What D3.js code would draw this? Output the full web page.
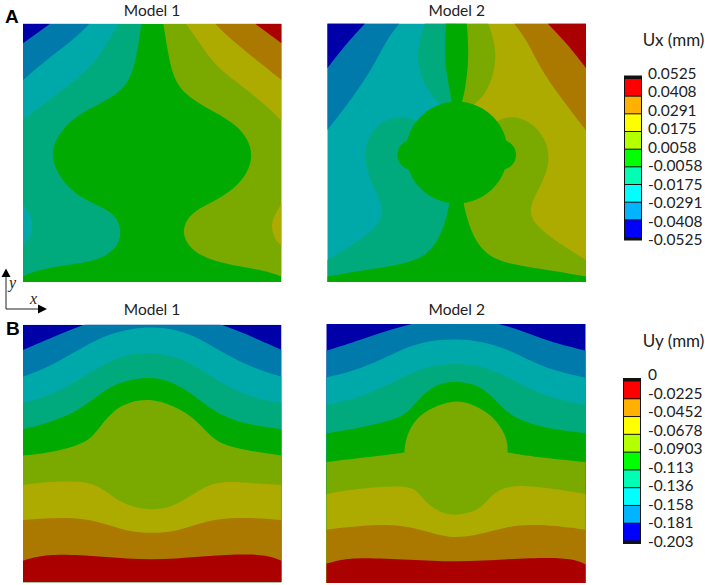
<!DOCTYPE html>
<html>
<head>
<meta charset="utf-8">
<script src="https://cdn.jsdelivr.net/npm/d3@7"></script>
<style>
  body { margin: 0; background: white; }
  svg { display: block; }
  text { font-family: Lato, "Open Sans", sans-serif; fill: #222; }
</style>
</head>
<body>
<div id="canvas"></div>
<script>
// contour bands, dull colours on the plots, full colours on the colour bars
var bandColors = ["#0000a8", "#007aaa", "#00a9a9", "#00aa7c", "#00aa00", "#7aaa00", "#adaa00", "#ab7800", "#aa0000"];
var barColors = ["#ff0000", "#ffb000", "#ffff00", "#b4ff00", "#00ff00", "#00ffb4", "#00ffff", "#00b4ff", "#0000ff"];

var uxLabels = ["0.0525", "0.0408", "0.0291", "0.0175", "0.0058", "-0.0058", "-0.0175", "-0.0291", "-0.0408", "-0.0525"];
var uyLabels = ["0", "-0.0225", "-0.0452", "-0.0678", "-0.0903", "-0.113", "-0.136", "-0.158", "-0.181", "-0.203"];

// contour lines, in percent of the panel: [across, down from the top edge]
// Ux, model 1
var a1Dark = [[10.5,0],[0,7.6]];
var a1Blue = [[25.7,0],[19.5,6.3],[10.5,12.8],[0,21.8]];
var a1Teal = [[36.9,0],[32.4,7.6],[28.5,14.1],[22.1,20.5],[11.7,28.3],[0,37.3]];
var a1TealLobe = [[0,69.8],[2.7,73.4],[4,78.6],[2.7,83.1],[0,86]];
var a1Sea = [[45.8,0],[44,12.8],[41.4,21.8],[36.3,27.6],[27.2,32.1],[18.2,37.3],[12.4,45],[11.1,50.8],[13,57.9],[19.5,65.7],[28.5,70.2],[35.6,73.4],[38.5,80.5],[36.3,87],[29.8,91.5],[16.9,93.4],[5.3,95.4],[0,97.9]];
var a1Olive = [[54.3,0],[56.3,12.8],[58.8,23],[64.6,28.9],[73.7,34],[82.7,39.2],[87.2,45],[88.8,50.8],[87.2,57.4],[81.4,64.4],[72.4,69.6],[64.6,73.4],[61.4,79.9],[63.4,85.7],[69.8,90.9],[84,94.1],[94.3,95.7],[100,97.9]];
var a1Yellow = [[63,0],[68.5,7.6],[73.7,15.4],[81.4,21.8],[91.7,29.5],[100,37.6]];
var a1YellowLobe = [[100,69.8],[96.9,74.7],[95.9,78.6],[97.5,83.7],[100,86]];
var a1Brown = [[74.3,0],[81.4,7],[90.5,14.1],[100,21.8]];
var a1Red = [[89.8,0],[100,7.6]];

// Ux, model 2
var a2Dark = [[14.6,0],[7.5,7.6],[0,17.3]];
var a2Blue = [[27.8,0],[22.9,6.3],[17.8,16.6],[10.1,28.3],[0,41.2]];
var a2Brown = [[72.2,0],[77.1,6.3],[82.2,17.3],[89.9,28.3],[100,41.4]];
var a2Red = [[85.1,0],[92.5,7.6],[100,17.3]];
var a2SeaTop = [[37.8,0],[35.2,7.6],[34.8,15.4],[37.1,23.1],[42.3,30.8],[50,34.7]];
var a2OliveTop = [[62.2,0],[64.8,7.6],[65.2,15.4],[62.9,24.4],[57.7,31.5],[50,34.7]];
var a2Spindle = [[45.9,0],[45.4,7.6],[45.5,15.4],[46.8,23.1],[47.9,30.2],[50,36],[52.3,30.2],[53.6,23.1],[54.5,15.4],[54.5,7.6],[53.9,0]];
var a2SeaMid = [[36,39],[33,36.8],[27.4,35.7],[19.1,38.6],[14.6,46.3],[14.6,55.4],[17.8,63.1],[21.6,70.8],[21,76],[15.2,82.5],[0,91.5]];
var a2OliveMid = [[64,39],[67,36.8],[72.6,35.7],[79.6,38.6],[85.4,46.3],[85.8,55.4],[82.2,63.1],[77.7,71.5],[79.6,77.3],[87.4,83.7],[100,91.5]];
var a2TailLeft = [[47.5,67],[47.2,69.8],[45.5,77.3],[42.9,83.7],[39,88.9],[32,92.8],[12.6,95.6],[0,97.9]];
var a2TailRight = [[52.5,67],[52.6,69.8],[54.5,77.3],[57.1,83.7],[61,88.9],[68,92.8],[87.4,95.6],[100,97.9]];
// hole and the two side bumps: [across, down, radius]
var a2Discs = [[50,49.9,19.7],[32.9,50.8,5.8],[67.1,50.8,5.8]];

// Uy, upper edge of each band from the top band down
var b1Edges = [
  [[0,9.8],[10.5,5.3],[23.1,0],[36,-4],[50,-6],[64,-4],[77.3,0],[89.2,4.9],[100,9.8]],
  [[0,20.2],[10.5,16.3],[23.4,8.5],[33.7,3.4],[42.7,1.4],[50,0.8],[59.5,1.8],[68.5,5.3],[78.8,11.8],[89.2,16.9],[100,20.2]],
  [[0,30.5],[11.7,27.3],[23.4,20.2],[33.7,13.7],[42.7,11.1],[50,10.7],[59.5,12.4],[68.5,16.9],[78.8,24.1],[89.2,28.6],[100,30.5]],
  [[0,40.6],[11.7,37.6],[22.1,33.1],[29.8,26.6],[37.5,22.1],[47.9,20.2],[55.6,21.2],[64.6,26],[73.7,33.8],[84,38.3],[100,40.6]],
  [[0,50.8],[10.5,49.7],[22.1,46.7],[27.2,43.5],[31.1,37.6],[37.5,31.2],[45.2,29],[51.7,29.2],[60.8,32.5],[68.5,38.3],[73.7,44.8],[81.4,48],[100,50.8]],
  [[0,62.2],[10.5,60.9],[23.4,60.7],[29.8,62.9],[36.3,68],[42.7,71],[50,71.9],[57,71],[64.6,66.8],[71.1,62.2],[78.8,60.7],[89.2,61.6],[100,62.2]],
  [[0,75.8],[18.2,74.5],[29.8,76.5],[40.1,80.3],[50,81],[59.5,80.3],[69.8,76.5],[81.4,74.5],[100,75.8]],
  [[0,91.6],[5.3,90],[14.3,89],[29.8,90],[50,91.6],[68.5,90],[85.2,89],[94.2,89.4],[100,91.6]]
];
var b2Edges = [
  [[0,10.3],[13,6.2],[30.3,0],[50,-3],[69.4,0],[83.7,6.2],[100,10.3]],
  [[0,20.6],[13,17.7],[28.4,10],[38.7,6.4],[50.2,5.7],[60.5,6.8],[70.8,10],[83.7,17.1],[100,20.8]],
  [[0,31.2],[13,28.7],[28.4,21],[38.7,16.2],[50.2,14.9],[60.5,16.2],[70.8,21],[83.7,28],[100,31.2]],
  [[0,42.2],[13,40.2],[28.4,36.4],[32.3,33.2],[38.7,25.4],[45.1,22.5],[50.3,22.2],[56.7,23],[63.1,26.7],[69.5,34.4],[76,37.7],[86.2,40.6],[100,42.2]],
  [[0,53.3],[13,51.8],[30.1,49.6],[30.1,49.6],[30.1,49.6],[30.3,46],[32.3,39.6],[37.4,33.8],[45.1,30.6],[50.3,29.6],[55.4,30.6],[63.1,34.4],[68.2,40.9],[69.9,46],[69.9,49.6],[69.9,49.6],[69.9,49.6],[83.7,51.8],[100,53.3]],
  [[0,65.6],[13,63.4],[32.3,62.1],[35.5,65.3],[40,70.4],[45.1,73.3],[49.6,73.9],[55.4,73],[60.5,70.4],[65.7,63.4],[76,62.1],[88.9,63.8],[100,65.6]],
  [[0,79.4],[22,76.9],[34.8,78.8],[45.1,82],[50.3,82.4],[58,81.7],[69.5,78.1],[81.1,77.1],[100,79.4]],
  [[0,92.5],[5.3,91],[13,90.1],[32.3,91],[50.3,92],[70.8,90.7],[86.2,90.1],[95.2,90.7],[100,92.8]]
];

var topLeft = [[0,0]], topRight = [[100,0]];

var a1Regions = [
  {band: 4, edge: [[0,0],[100,0]], close: [[100,100],[0,100]]},
  {band: 3, edge: a1Sea, close: [[0,100],[0,0]]},
  {band: 2, edge: a1Teal, close: topLeft},
  {band: 2, edge: a1TealLobe, close: []},
  {band: 1, edge: a1Blue, close: topLeft},
  {band: 0, edge: a1Dark, close: topLeft},
  {band: 5, edge: a1Olive, close: [[100,100],[100,0]]},
  {band: 6, edge: a1Yellow, close: topRight},
  {band: 6, edge: a1YellowLobe, close: []},
  {band: 7, edge: a1Brown, close: topRight},
  {band: 8, edge: a1Red, close: topRight}
];
var a2Regions = [
  {band: 2, edge: [[0,0],[50,0]], close: [[50,100],[0,100]]},
  {band: 6, edge: [[50,0],[100,0]], close: [[100,100],[50,100]]},
  {band: 1, edge: a2Blue, close: topLeft},
  {band: 0, edge: a2Dark, close: topLeft},
  {band: 7, edge: a2Brown, close: topRight},
  {band: 8, edge: a2Red, close: topRight},
  {band: 3, edge: a2SeaTop, close: [[50,0]]},
  {band: 5, edge: a2OliveTop, close: [[50,0]]},
  {band: 3, edge: a2SeaMid, close: [[0,100],[50,100],[50,50]]},
  {band: 5, edge: a2OliveMid, close: [[100,100],[50,100],[50,50]]},
  {band: 4, edge: a2Spindle, close: []},
  {band: 4, edge: a2TailLeft, close: [[0,100],[51,100],[51,65]]},
  {band: 4, edge: a2TailRight, close: [[100,100],[49,100],[49,65]]}
];

function stacked(edges) {
  var out = [{band: 0, edge: [[0,0],[100,0]], close: [[100,100],[0,100]]}];
  edges.forEach(function(e, i) {
    out.push({band: i + 1, edge: e, close: [[100,100],[0,100]]});
  });
  return out;
}

var svg = d3.select("#canvas").append("svg")
    .attr("width", 705)
    .attr("height", 585);

function drawPanel(id, x0, y0, w, h, regions, discs) {
  var x = d3.scaleLinear().domain([0, 100]).range([x0, x0 + w]);
  var y = d3.scaleLinear().domain([0, 100]).range([y0, y0 + h]);
  var line = d3.line()
      .x(function(d) { return x(d[0]); })
      .y(function(d) { return y(d[1]); })
      .curve(d3.curveBasis);

  svg.append("clipPath").attr("id", id).append("rect")
      .attr("x", x0).attr("y", y0).attr("width", w).attr("height", h);

  var g = svg.append("g").attr("clip-path", "url(#" + id + ")");

  g.selectAll("path")
      .data(regions)
      .enter()
      .append("path")
      .attr("d", function(r) {
        var tail = r.close.map(function(p) { return "L" + x(p[0]) + "," + y(p[1]); }).join("");
        return line(r.edge) + tail + "Z";
      })
      .attr("fill", function(r) { return bandColors[r.band]; });

  g.selectAll("circle")
      .data(discs)
      .enter()
      .append("circle")
      .attr("cx", function(d) { return x(d[0]); })
      .attr("cy", function(d) { return y(d[1]); })
      .attr("r", function(d) { return x(d[2]) - x(0); })
      .attr("fill", bandColors[4]);
}

drawPanel("a1", 23, 23.7, 258.5, 258.3, a1Regions, []);
drawPanel("a2", 327.3, 23.5, 258.8, 258.5, a2Regions, a2Discs);
drawPanel("b1", 23, 324.7, 258.5, 257.6, stacked(b1Edges), []);
drawPanel("b2", 326.3, 324, 259.4, 259, stacked(b2Edges), []);

function drawBar(title, titleY, labels, barX, barTop, barBot, labelTop, labelBot) {
  var barScale = d3.scaleBand()
      .domain(d3.range(barColors.length))
      .range([barTop, barBot]);
  var labelScale = d3.scalePoint()
      .domain(labels)
      .range([labelTop, labelBot]);

  svg.append("rect")
      .attr("x", barX - 1).attr("y", barTop - 3)
      .attr("width", 18).attr("height", barBot - barTop + 6)
      .attr("fill", "#111");

  svg.selectAll(null)
      .data(barColors)
      .enter()
      .append("rect")
      .attr("x", barX)
      .attr("y", function(d, i) { return barScale(i) + 0.5; })
      .attr("width", 16)
      .attr("height", barScale.bandwidth() - 1)
      .attr("fill", function(d) { return d; });

  var axis = d3.axisRight(labelScale).tickSize(0).tickPadding(0);
  var a = svg.append("g")
      .attr("transform", "translate(648,0)")
      .call(axis);
  a.select(".domain").remove();
  a.selectAll("text")
      .attr("font-size", 15.5)
      .style("font-family", "Lato")
      .attr("fill", "#222");

  svg.append("text")
      .attr("x", 673.5).attr("y", titleY)
      .attr("text-anchor", "middle")
      .attr("font-size", 17)
      .text(title);
}

drawBar("Ux (mm)", 46, uxLabels, 625, 78.5, 237.5, 73.5, 240);
drawBar("Uy (mm)", 347, uyLabels, 624, 381, 541, 375, 541.5);

// panel titles and letters
var titles = [["Model 1", 152, 15.5], ["Model 2", 456.7, 15.5], ["Model 1", 152, 315], ["Model 2", 456.7, 315]];
svg.selectAll(null)
    .data(titles)
    .enter()
    .append("text")
    .attr("x", function(d) { return d[1]; })
    .attr("y", function(d) { return d[2]; })
    .attr("text-anchor", "middle")
    .attr("font-size", 15.5)
    .text(function(d) { return d[0]; });

svg.append("text").attr("x", 5).attr("y", 23).text("A")
    .style("font-family", "Liberation Sans").attr("font-weight", "bold").attr("font-size", 19).style("fill", "#000");
svg.append("text").attr("x", 6).attr("y", 335).text("B")
    .style("font-family", "Liberation Sans").attr("font-weight", "bold").attr("font-size", 19).style("fill", "#000");

// the little x / y key between the rows
svg.append("path").attr("d", "M6,275V309H40").attr("fill", "none").attr("stroke", "#222").attr("stroke-width", 1);
svg.append("path").attr("d", "M1.5,277L6,268.5L10.5,277Z").attr("fill", "#000");
svg.append("path").attr("d", "M38,304.5L47,309L38,313.5Z").attr("fill", "#000");
svg.append("text").attr("x", 9).attr("y", 288).text("y")
    .style("font-family", "Liberation Serif").attr("font-style", "italic").attr("font-size", 16);
svg.append("text").attr("x", 30).attr("y", 304).text("x")
    .style("font-family", "Liberation Serif").attr("font-style", "italic").attr("font-size", 16);
</script>
</body>
</html>
